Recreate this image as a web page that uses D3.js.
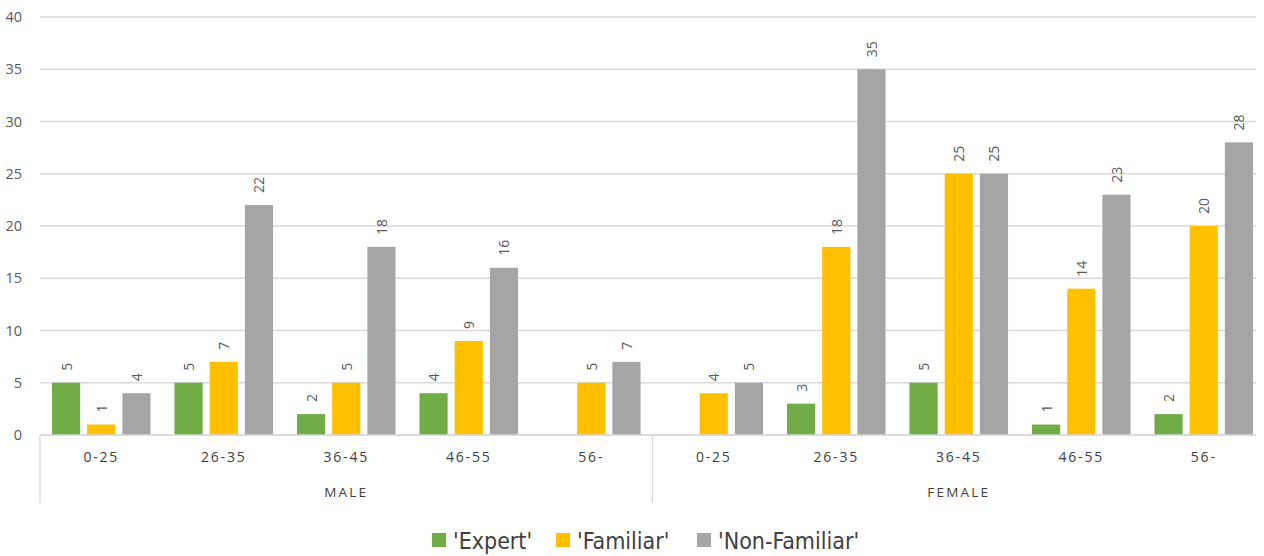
<!DOCTYPE html>
<html><head><meta charset="utf-8">
<script src="https://cdn.jsdelivr.net/npm/d3@7"></script>
<style>body{margin:0;background:#fff;}svg{display:block;}</style>
</head><body>
<svg id="c" width="1264" height="556"></svg>
<script>
const genders = ["MALE", "FEMALE"];
const ages = ["0-25", "26-35", "36-45", "46-55", "56-"];
const seriesNames = ["'Expert'", "'Familiar'", "'Non-Familiar'"];
const colors = ["#70ad47", "#ffc000", "#a5a5a5"];
const expert = [5, 5, 2, 4, null, null, 3, 5, 1, 2];
const familiar = [1, 7, 5, 9, 5, 4, 18, 25, 14, 20];
const nonFamiliar = [4, 22, 18, 16, 7, 5, 35, 25, 23, 28];
const yTicks = [0, 5, 10, 15, 20, 25, 30, 35, 40];

(function(){
const series = [expert, familiar, nonFamiliar];
const cats = [];
genders.forEach(g => ages.forEach(a => cats.push(g + "|" + a)));

const svg = d3.select("#c");
const mLeft = 40, mRight = 1265, mTop = 17, mBottom = 435;
const x = d3.scaleBand().domain(cats).range([mLeft, mRight]).paddingInner(0).paddingOuter(0);
const xs = d3.scaleBand().domain([0, 1, 2]).range([0, x.bandwidth()]).paddingInner(0.2).paddingOuter(0.34);
const y = d3.scaleLinear().domain([0, 40]).range([mBottom, mTop]);

svg.append("g").selectAll("line").data(yTicks).join("line")
  .attr("x1", mLeft).attr("x2", 1256)
  .attr("y1", d => y(d)).attr("y2", d => y(d))
  .attr("stroke", "#d9d9d9").attr("stroke-width", 1.3);

svg.append("g").selectAll("text").data(yTicks).join("text")
  .attr("x", 22).attr("y", d => y(d)).attr("dy", "0.35em")
  .attr("text-anchor", "end")
  .attr("font-family", "'Open Sans', sans-serif").attr("font-size", 14.5)
  .attr("fill", "#595959").text(d => d);

series.forEach((vals, si) => {
  const data = cats.map((c, i) => ({c, v: vals[i]})).filter(d => d.v != null);
  svg.append("g").selectAll("rect").data(data).join("rect")
    .attr("x", d => x(d.c) + xs(si)).attr("width", xs.bandwidth())
    .attr("y", d => y(d.v)).attr("height", d => y(0) - y(d.v))
    .attr("fill", colors[si]);
  svg.append("g").selectAll("text").data(data).join("text")
    .attr("transform", d => `translate(${x(d.c) + xs(si) + xs.bandwidth()/2 + 5.5},${y(d.v) - 12}) rotate(-90)`)
    .attr("text-anchor", "start")
    .attr("font-family", "'Open Sans', sans-serif").attr("font-size", 14)
    .attr("fill", "#595959").text(d => d.v);
});

svg.append("line").attr("x1", mLeft).attr("x2", 1256).attr("y1", mBottom).attr("y2", mBottom)
  .attr("stroke", "#d9d9d9").attr("stroke-width", 1.3);
[mLeft, x(genders[1] + "|" + ages[0])].forEach(xx => {
  svg.append("line").attr("x1", xx).attr("x2", xx).attr("y1", mBottom).attr("y2", 503)
    .attr("stroke", "#d9d9d9").attr("stroke-width", 1.3);
});

svg.append("g").selectAll("text").data(cats).join("text")
  .attr("x", d => x(d) + x.bandwidth()/2).attr("y", 462)
  .attr("text-anchor", "middle")
  .attr("font-family", "'Open Sans', sans-serif").attr("font-size", 14)
  .attr("letter-spacing", "1.8px")
  .attr("fill", "#404040").text(d => d.split("|")[1]);

svg.append("g").selectAll("text").data(genders).join("text")
  .attr("x", (d, i) => mLeft + (i + 0.5) * (x.bandwidth() * ages.length))
  .attr("y", 497).attr("text-anchor", "middle")
  .attr("font-family", "'Open Sans', sans-serif").attr("font-size", 13.5)
  .attr("letter-spacing", "2.2px")
  .attr("fill", "#404040").text(d => d);

const legX = [432, 556, 697];
const lg = svg.append("g");
seriesNames.forEach((n, i) => {
  lg.append("rect").attr("x", legX[i]).attr("y", 533).attr("width", 14).attr("height", 14).attr("fill", colors[i]);
  lg.append("text").attr("x", legX[i] + 21).attr("y", 549)
    .attr("font-family", "'DejaVu Sans Condensed', 'DejaVu Sans', sans-serif")
    .attr("font-stretch", "condensed")
    .attr("font-size", 23).attr("fill", "#404040").text(n);
});
})();
</script>
</body></html>
